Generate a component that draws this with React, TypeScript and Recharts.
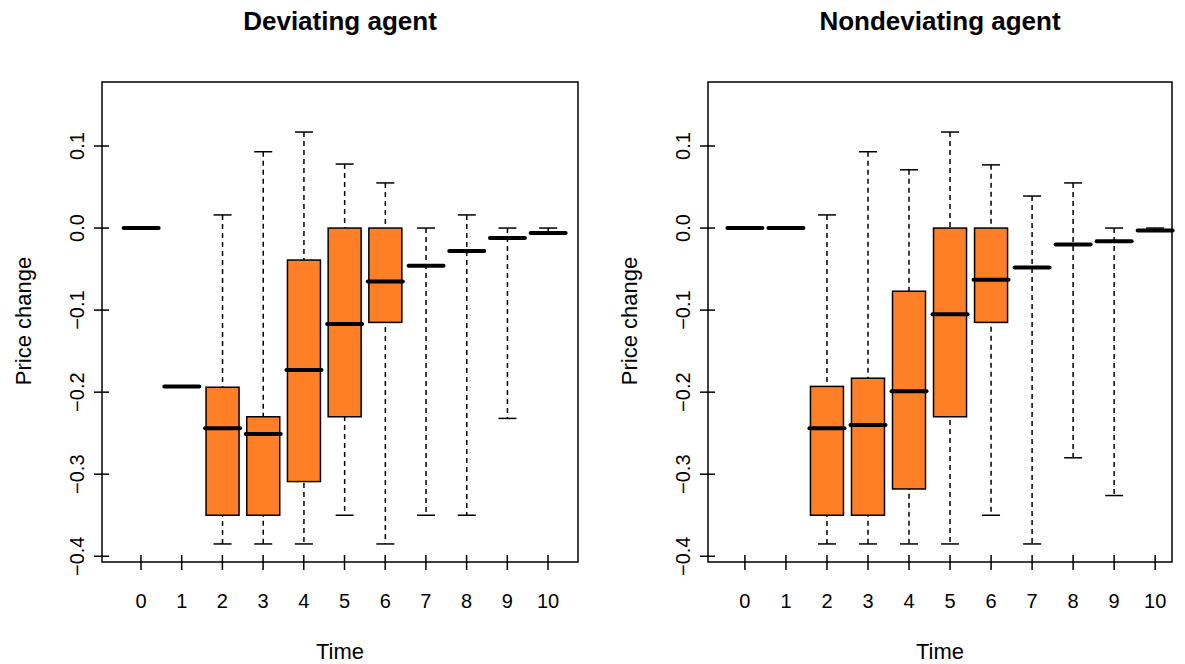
import { ComposedChart, Bar, XAxis, YAxis, ReferenceArea } from 'recharts'

const times = [0, 1, 2, 3, 4, 5, 6, 7, 8, 9, 10]

// deviating agent
const devLow = [0, -0.193, -0.385, -0.385, -0.385, -0.35, -0.385, -0.35, -0.35, -0.232, -0.006]
const devQ1 = [0, -0.193, -0.35, -0.35, -0.309, -0.23, -0.115, -0.046, -0.028, -0.012, -0.006]
const devMed = [0, -0.193, -0.244, -0.251, -0.173, -0.117, -0.065, -0.046, -0.028, -0.012, -0.006]
const devQ3 = [0, -0.193, -0.194, -0.23, -0.039, 0, 0, -0.046, -0.028, -0.012, -0.006]
const devHigh = [0, -0.193, 0.016, 0.093, 0.117, 0.078, 0.055, 0, 0.016, 0, 0]

// nondeviating agent
const nonLow = [0, 0, -0.385, -0.385, -0.385, -0.385, -0.35, -0.385, -0.28, -0.326, -0.003]
const nonQ1 = [0, 0, -0.35, -0.35, -0.318, -0.23, -0.115, -0.048, -0.02, -0.016, -0.003]
const nonMed = [0, 0, -0.244, -0.24, -0.199, -0.105, -0.063, -0.048, -0.02, -0.016, -0.003]
const nonQ3 = [0, 0, -0.193, -0.183, -0.077, 0, 0, -0.048, -0.02, -0.016, -0.003]
const nonHigh = [0, 0, 0.016, 0.093, 0.071, 0.117, 0.077, 0.039, 0.055, 0, 0]

const yTicks = [-0.4, -0.3, -0.2, -0.1, 0, 0.1]
const font = '"Liberation Sans", Arial, sans-serif'

const build = (lo: number[], q1: number[], md: number[], q3: number[], hi: number[]) =>
  times.map((t, i) => ({ t, w: [lo[i], hi[i]], box: [q1[i], q3[i]], med: [md[i], md[i]] }))

const Whisker = (p: any) => {
  const cx = p.x + p.width / 2
  if (p.height < 0.5) return <g />
  return (
    <g stroke="#000" strokeWidth={1.5}>
      <line x1={cx} x2={cx} y1={p.y} y2={p.y + p.height} strokeDasharray="5 4" />
      <line x1={cx - 9} x2={cx + 9} y1={p.y} y2={p.y} />
      <line x1={cx - 9} x2={cx + 9} y1={p.y + p.height} y2={p.y + p.height} />
    </g>
  )
}

const Box = (p: any) =>
  p.height < 0.5 ? <g /> : (
    <rect x={p.x} y={p.y} width={p.width} height={p.height} fill="#FF7F27" stroke="#000" strokeWidth={1.5} />
  )

const Median = (p: any) => (
  <line x1={p.x - 1} x2={p.x + p.width + 1} y1={p.y} y2={p.y} stroke="#000" strokeWidth={4} strokeLinecap="round" />
)

const YTick = (p: any) => (
  <g>
    <line x1={p.x + 15} x2={p.x} y1={p.y} y2={p.y} stroke="#000" strokeWidth={1.5} />
    <text x={p.x - 17} y={p.y} dy={7} transform={`rotate(-90 ${p.x - 17} ${p.y})`} textAnchor="middle" fontSize={20} fontFamily={font} fill="#000">
      {p.payload.value === 0 ? '0.0' : p.payload.value.toFixed(1).replace('-', '\u2212')}
    </text>
  </g>
)

const XTick = (p: any) => (
  <g>
    <line x1={p.x} x2={p.x} y1={p.y - 15} y2={p.y} stroke="#000" strokeWidth={1.5} />
    <text x={p.x} y={p.y + 38} textAnchor="middle" fontSize={20} fontFamily={font} fill="#000">
      {p.payload.value}
    </text>
  </g>
)

const Panel = ({ title, data, left, plotW, xDomain }: any) => (
  <div style={{ position: 'relative', width: 592, height: 664 }}>
    <div style={{ position: 'absolute', left: left + plotW / 2 - 200, width: 400, top: 6, textAlign: 'center', font: `bold 26px ${font}` }}>
      {title}
    </div>
    <div style={{ position: 'absolute', left: left + plotW / 2 - 100, width: 200, top: 639, textAlign: 'center', font: `22px ${font}` }}>Time</div>
    <div style={{ position: 'absolute', left: left - 78 - 100, top: 322 - 14, width: 200, textAlign: 'center', transform: 'rotate(-90deg)', font: `22px ${font}` }}>
      Price change
    </div>
    <ComposedChart width={592} height={664} data={data} margin={{ top: 82, bottom: 42, left: left - 40, right: 592 - left - plotW }} style={{ position: 'absolute', top: 0, left: 0 }}>
      <XAxis xAxisId="a" dataKey="t" type="number" domain={xDomain} ticks={times} interval={0} axisLine={false} tickLine={false} tick={<XTick />} height={60} />
      <XAxis xAxisId="b" dataKey="t" type="number" domain={xDomain} hide />
      <XAxis xAxisId="c" dataKey="t" type="number" domain={xDomain} hide />
      <YAxis domain={[-0.407, 0.178]} ticks={yTicks} axisLine={false} tickLine={false} tick={<YTick />} width={40} allowDataOverflow />
      <Bar xAxisId="a" dataKey="w" barSize={33} shape={<Whisker />} isAnimationActive={false} />
      <Bar xAxisId="b" dataKey="box" barSize={33} shape={<Box />} isAnimationActive={false} />
      <Bar xAxisId="c" dataKey="med" barSize={33} shape={<Median />} isAnimationActive={false} />
      <ReferenceArea xAxisId="a" x1={xDomain[0]} x2={xDomain[1]} y1={-0.407} y2={0.178} fill="none" stroke="#000" strokeWidth={1.5} ifOverflow="extendDomain" />
    </ComposedChart>
  </div>
)

export default function App() {
  return (
    <div style={{ position: 'absolute', left: 0, top: 0, display: 'flex', width: 1185, height: 664, background: '#fff' }}>
      <Panel title="Deviating agent" data={build(devLow, devQ1, devMed, devQ3, devHigh)} left={102} plotW={476} xDomain={[-0.958, 10.737]} />
      <Panel title="Nondeviating agent" data={build(nonLow, nonQ1, nonMed, nonQ3, nonHigh)} left={116} plotW={464} xDomain={[-0.9, 10.41]} />
    </div>
  )
}
